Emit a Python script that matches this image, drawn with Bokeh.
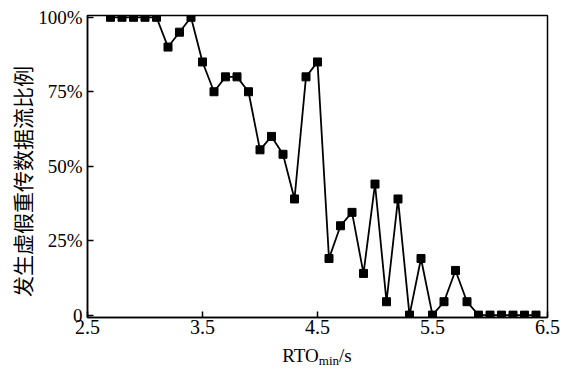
from bokeh.plotting import figure
from bokeh.models import FixedTicker, Range1d, Div
from bokeh.layouts import column, row
from bokeh.embed import file_html
from bokeh.resources import INLINE

rto = [2.7, 2.8, 2.9, 3.0, 3.1, 3.2, 3.3, 3.4, 3.5, 3.6, 3.7, 3.8, 3.9, 4.0, 4.1, 4.2, 4.3,
       4.4, 4.5, 4.6, 4.7, 4.8, 4.9, 5.0, 5.1, 5.2, 5.3, 5.4, 5.5, 5.6, 5.7, 5.8, 5.9,
       6.0, 6.1, 6.2, 6.3, 6.4]
ratio = [100, 100, 100, 100, 100, 90, 95, 100, 85, 75, 80, 80, 75, 55.5, 60, 54, 39,
         80, 85, 19, 30, 34.5, 14, 44, 4.5, 39, 0, 19, 0, 4.5, 15, 4.5, 0,
         0, 0, 0, 0, 0]

x_ticks = [2.5, 3.5, 4.5, 5.5, 6.5]
y_ticks = [0, 25, 50, 75, 100]
y_tick_labels = ["0", "25%", "50%", "75%", "100%"]
y_title = "发生虚假重传数据流比例"

SERIF = "Liberation Serif"

p = figure(width=529, height=345, output_backend="svg", toolbar_location=None,
           x_range=Range1d(2.5, 6.5), y_range=Range1d(-0.8, 100.6),
           min_border_left=54, min_border_right=15, min_border_top=15, min_border_bottom=28)
p.grid.visible = False
p.outline_line_color = "black"
p.outline_line_width = 1.5
p.outline_line_alpha = 1
p.background_fill_color = "white"
p.border_fill_color = "white"

p.xaxis.ticker = FixedTicker(ticks=x_ticks)
p.yaxis.ticker = FixedTicker(ticks=y_ticks)
p.yaxis.major_label_overrides = {t: l for t, l in zip(y_ticks, y_tick_labels)}
p.xaxis.major_label_overrides = {t: str(t) for t in x_ticks}
for ax in (p.xaxis, p.yaxis):
    ax.major_tick_in = 6
    ax.major_tick_out = 0
    ax.minor_tick_line_color = None
    ax.axis_line_color = "black"
    ax.axis_line_width = 1.5
    ax.major_tick_line_width = 1.5
    ax.major_label_text_font = SERIF
    ax.major_label_text_color = "black"
p.yaxis.major_label_text_font_size = "19px"
p.xaxis.major_label_text_font_size = "20px"
p.yaxis.major_label_standoff = 5
p.xaxis.major_label_standoff = 2

p.line(rto, ratio, line_color="black", line_width=1.8)
p.scatter(rto, ratio, marker="square", size=8, fill_color="black", line_color="black")

x_title = Div(
    text='RTO<sub style="font-size:13px; vertical-align:-3px;">min</sub>/s',
    width=460, height=24, margin=(0, 0, 0, 54),
    styles={"font-family": SERIF, "font-size": "19px", "text-align": "center",
            "line-height": "22px", "color": "black"},
)

y_title_div = Div(
    text=('<div style="writing-mode: vertical-lr; text-orientation: sideways; '
          'transform: rotate(180deg); width: 33px; height: 364px; line-height: 21px; '
          'font-family: \'Noto Sans CJK SC\'; font-size: 21px; text-align: center; '
          'color: black;">' + y_title + '</div>'),
    width=33, height=369, margin=(0, 0, 0, 0),
)

layout = row(y_title_div, column(p, x_title, spacing=0), spacing=0)
open("out.html", "w").write(file_html(layout, INLINE))
